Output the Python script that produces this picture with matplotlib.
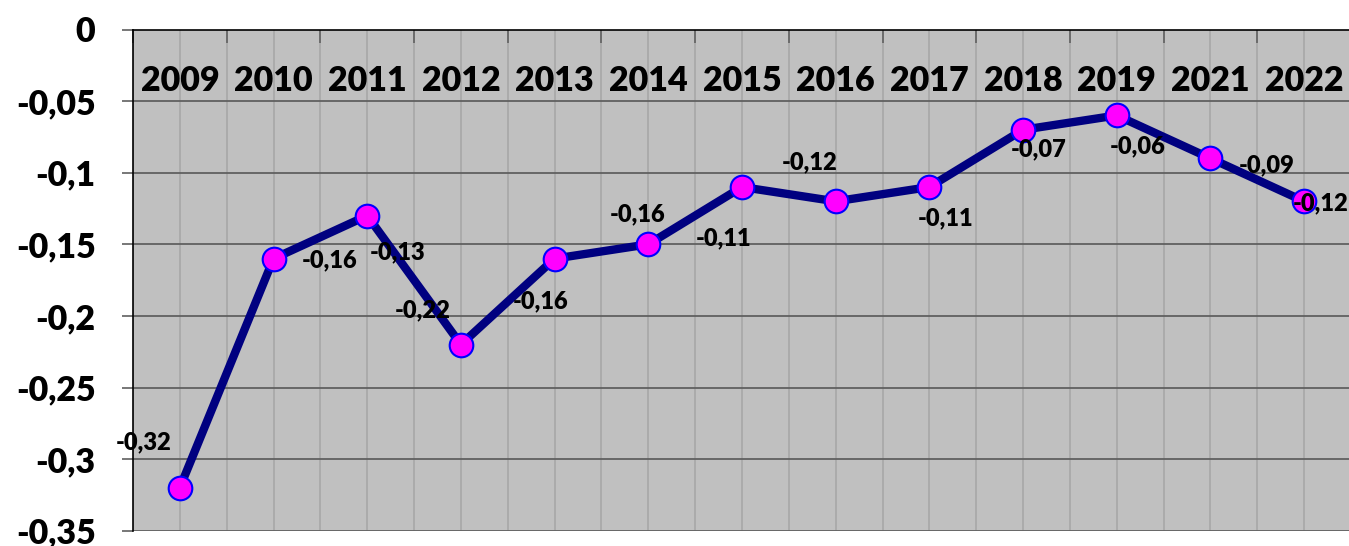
import matplotlib
matplotlib.use('Agg')

import matplotlib.pyplot as plt
import matplotlib.transforms as mtransforms

# data
years = ["2009", "2010", "2011", "2012", "2013", "2014", "2015",
         "2016", "2017", "2018", "2019", "2021", "2022"]
values = [-0.32, -0.16, -0.13, -0.22, -0.16, -0.15, -0.11,
          -0.12, -0.11, -0.07, -0.06, -0.09, -0.12]
label_texts = ["-0,32", "-0,16", "-0,13", "-0,22", "-0,16", "-0,16", "-0,11",
               "-0,12", "-0,11", "-0,07", "-0,06", "-0,09", "-0,12"]
y_ticks = [0, -0.05, -0.1, -0.15, -0.2, -0.25, -0.3, -0.35]
y_tick_labels = ["0", "-0,05", "-0,1", "-0,15", "-0,2", "-0,25", "-0,3", "-0,35"]

# label offsets in pixels (x right, y up)
label_offsets = [(-36, 45), (56, -2), (30, -37), (-38, 34), (-14, -43), (-11, 30), (-18, -51),
                 (-26, 39), (16, -31), (16, -20), (21, -31), (56, -7), (16, -2)]

plt.rcParams['font.family'] = ['Lato', 'DejaVu Sans']
WEIGHT = "heavy"

W, H = 1349, 546
fig = plt.figure(figsize=(W / 100, H / 100), dpi=100)
ax = fig.add_axes([133 / W, (546 - 530.7) / H, (1351 - 133) / W, (530.7 - 29.5) / H])
ax.set_facecolor("#c0c0c0")

xs = list(range(len(years)))
ax.set_xlim(-0.5, len(years) - 0.5)
ax.set_ylim(-0.35, 0)

# gridlines
for k in range(2 * len(years) + 1):
    ax.axvline(-0.5 + 0.5 * k, color="#a9a9a9", lw=1.3, zorder=1)
for yv in y_ticks[1:]:
    ax.axhline(yv, color="#606060", lw=1.3, zorder=1.5)

# line with markers
ax.plot(xs, values, color="#000080", lw=6, zorder=3,
        marker="o", markersize=17, markerfacecolor="#ff00ff",
        markeredgecolor="#0000ff", markeredgewidth=1.5)

for x, v, txt, off in zip(xs, values, label_texts, label_offsets):
    ax.annotate(txt, (x, v), xytext=off, textcoords="offset pixels",
                ha="center", va="center", fontsize=17, fontweight=WEIGHT, zorder=4)

# category labels under the top axis line
trans = mtransforms.blended_transform_factory(ax.transData, ax.transAxes)
for x, yr in zip(xs, years):
    ax.text(x, 1 - (81 - 29.5) / 501.2, yr, transform=trans, ha="center", va="center",
            fontsize=24.5, fontweight=WEIGHT, zorder=4)

# top ticks at category boundaries
ax.xaxis.tick_top()
ax.set_xticks([x + 0.5 for x in xs[:-1]] + [-0.5])
ax.set_xticklabels([])
ax.tick_params(axis="x", direction="in", length=9, width=1.2, color="#606060")

ax.set_yticks(y_ticks)
ax.set_yticklabels(y_tick_labels, fontsize=24.5, fontweight=WEIGHT)
ax.tick_params(axis="y", direction="out", length=8, width=1.2, color="#606060", pad=19)

ax.spines["right"].set_visible(False)
ax.spines["bottom"].set_visible(False)
ax.spines["left"].set_color("black")
ax.spines["top"].set_color("black")
ax.spines["left"].set_linewidth(1.2)
ax.spines["top"].set_linewidth(1.2)

fig.savefig("out.png", dpi=100)
plt.close(fig)
